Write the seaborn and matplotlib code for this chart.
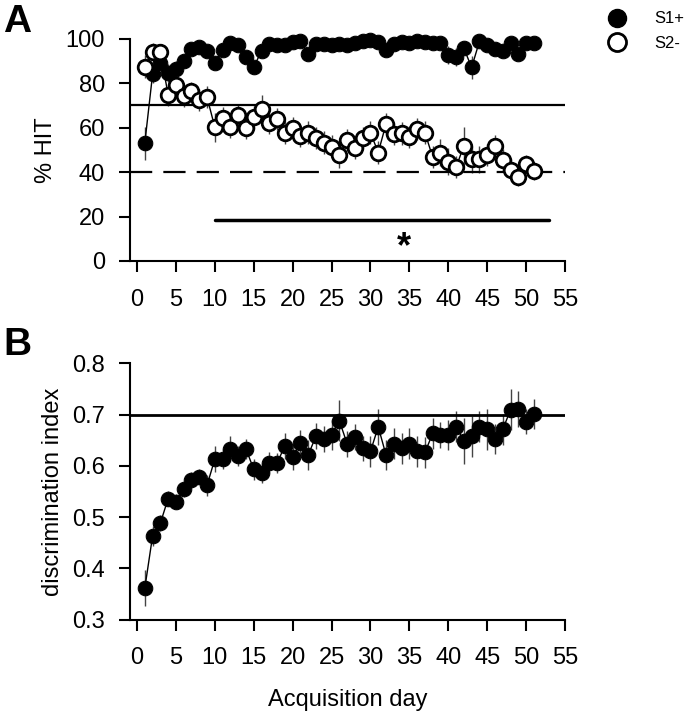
import numpy as np
import matplotlib
matplotlib.use("Agg")
import matplotlib.pyplot as plt
from matplotlib.lines import Line2D
import seaborn as sns

# acquisition days
days = list(range(1, 52))

# panel A: % HIT, mean and sem
s1_hit = [53, 84, 89, 84.5, 86.5, 90, 95.3, 96.2, 94.7, 89.3,
          95, 98, 97.3, 92, 87.2, 94.6, 97.7, 97.3, 97, 98.6,
          99, 93, 97.7, 97.5, 97, 97.5, 97, 98, 99, 99.5,
          98.5, 95, 97.5, 98.5, 98, 99, 98.5, 98, 98, 92.8,
          91.7, 95.8, 87.1, 98.8, 97.3, 95.3, 94.3, 98.3, 93.1, 98, 98]
s1_sem = [7.5, 4, 3, 4, 3.5, 3, 2, 2, 2.5, 3,
          2.5, 1.5, 1.5, 2.5, 3, 2, 1.5, 1.5, 1.5, 1,
          1, 2.5, 1.5, 1.5, 1.5, 1.5, 1.5, 1, 1, 1,
          1, 2, 1.5, 1, 1, 1, 1, 1, 1, 4,
          4, 3, 5, 1.5, 1.5, 2, 2, 1.5, 2.5, 1.5, 1.5]
s2_hit = [87.5, 94, 94, 74.8, 79.3, 74.3, 76.7, 72.5, 73.7, 60.2,
          64.3, 60.5, 65.5, 59.8, 64.6, 68.3, 62, 64, 57.8, 59.8,
          56.3, 57.8, 55.3, 53.3, 51.5, 47.7, 54.5, 50.8, 55.3, 57.8,
          48.8, 61.7, 57, 57.4, 55.7, 59.3, 57.8, 46.7, 48.8, 44.7,
          42.2, 51.8, 45.8, 45.8, 47.7, 51.8, 45.5, 41, 37.7, 43.7, 40.5]
s2_sem = [5, 4, 3, 5, 5, 5, 4, 5, 5, 6.5,
          5, 5, 5, 5, 5, 6.5, 5, 5, 5, 5,
          5, 5, 5, 5, 5, 6, 5, 5, 5, 5,
          5, 5, 5, 5, 5, 5, 5, 5, 6, 6,
          5, 8.7, 6, 6, 5, 5, 5, 5, 4, 4, 4]

# panel B: discrimination index, mean and sem
di = [0.361, 0.463, 0.488, 0.536, 0.530, 0.554, 0.572, 0.579, 0.562, 0.613,
      0.613, 0.633, 0.619, 0.633, 0.593, 0.586, 0.606, 0.605, 0.639, 0.617,
      0.645, 0.621, 0.658, 0.652, 0.660, 0.688, 0.643, 0.656, 0.634, 0.628,
      0.676, 0.621, 0.643, 0.634, 0.643, 0.628, 0.626, 0.663, 0.660, 0.660,
      0.676, 0.649, 0.658, 0.676, 0.671, 0.652, 0.671, 0.709, 0.710, 0.686, 0.701]
di_sem = [0.035, 0.02, 0.015, 0.015, 0.015, 0.015, 0.015, 0.015, 0.02, 0.025,
          0.02, 0.025, 0.02, 0.02, 0.02, 0.02, 0.02, 0.02, 0.025, 0.025,
          0.025, 0.03, 0.025, 0.025, 0.03, 0.04, 0.025, 0.025, 0.025, 0.03,
          0.035, 0.03, 0.03, 0.03, 0.03, 0.03, 0.03, 0.03, 0.025, 0.03,
          0.03, 0.045, 0.04, 0.03, 0.04, 0.03, 0.03, 0.04, 0.035, 0.025, 0.03]

# significance bar (days 10-53) and criterion lines
sig_start, sig_end, sig_y = 10, 53, 18.5
star_x, star_y = 34.3, 6

sns.set_style("ticks")
plt.rcParams['font.family'] = ['Liberation Sans', 'DejaVu Sans']
plt.rcParams.update({'text.color': 'black', 'axes.labelcolor': 'black',
                     'xtick.color': 'black', 'ytick.color': 'black'})

fig = plt.figure(figsize=(6.93, 7.19), dpi=100)
axA = fig.add_axes([0.1876, 0.637, 0.6277, 0.309])
axB = fig.add_axes([0.1876, 0.1383, 0.6277, 0.3565])

lab_fs = 17
tick_kw = dict(length=8, width=1.5, labelsize=lab_fs, direction='out', color='black')

# ---- panel A
axA.errorbar(days, s2_hit, yerr=s2_sem, fmt='none', ecolor='#444444', elinewidth=1,
             zorder=1, clip_on=False)
axA.errorbar(days, s1_hit, yerr=s1_sem, fmt='none', ecolor='#444444', elinewidth=1,
             zorder=1, clip_on=False)
sns.lineplot(x=days, y=s1_hit, ax=axA, color='black', lw=1, marker='o', markersize=10.5,
             markerfacecolor='black', markeredgecolor='black', zorder=3, clip_on=False)
sns.lineplot(x=days, y=s2_hit, ax=axA, color='black', lw=1, marker='o', markersize=10.5,
             markerfacecolor='white', markeredgecolor='black', markeredgewidth=2,
             zorder=4, clip_on=False)
axA.axhline(70, color='black', lw=1.6, zorder=2)
axA.axhline(40, color='black', lw=1.6, dashes=(10, 5), zorder=2)
axA.plot([sig_start, sig_end], [sig_y, sig_y], color='black', lw=2.5)
axA.text(star_x, star_y, '*', fontsize=26, fontweight='bold', ha='center', va='center')
axA.set_xlim(-0.9, 55)
axA.set_ylim(0, 100)
axA.set_yticks([0, 20, 40, 60, 80, 100])
axA.set_xticks(range(0, 56, 5))
axA.set_ylabel('% HIT', fontsize=lab_fs, labelpad=6)
axA.tick_params(axis='y', pad=10, **tick_kw)
axA.tick_params(axis='x', pad=12, **tick_kw)

# ---- panel B
axB.errorbar(days, di, yerr=di_sem, fmt='none', ecolor='#444444', elinewidth=1,
             zorder=1, clip_on=False)
sns.lineplot(x=days, y=di, ax=axB, color='black', lw=1, marker='o', markersize=10.5,
             markerfacecolor='black', markeredgecolor='black', zorder=3, clip_on=False)
axB.axhline(0.7, color='black', lw=2, zorder=2)
axB.set_xlim(-0.9, 55)
axB.set_ylim(0.3, 0.8)
axB.set_yticks([0.3, 0.4, 0.5, 0.6, 0.7, 0.8])
axB.set_xticks(range(0, 56, 5))
axB.set_ylabel('discrimination index', fontsize=lab_fs, labelpad=6)
axB.set_xlabel('Acquisition day', fontsize=lab_fs, labelpad=14)
axB.tick_params(axis='y', pad=10, **tick_kw)
axB.tick_params(axis='x', pad=12, **tick_kw)

for ax in (axA, axB):
    sns.despine(ax=ax)
    for sp in ('left', 'bottom'):
        ax.spines[sp].set_linewidth(1.5)
        ax.spines[sp].set_color('black')

# legend
handles = [Line2D([], [], ls='none', marker='o', markersize=13, markerfacecolor='black',
                  markeredgecolor='black'),
           Line2D([], [], ls='none', marker='o', markersize=13, markerfacecolor='white',
                  markeredgecolor='black', markeredgewidth=2)]
axA.legend(handles, ['S1+', 'S2-'], loc='upper left', bbox_to_anchor=(0.845, 1.005),
           bbox_transform=fig.transFigure, frameon=False, fontsize=12,
           handletextpad=1.2, labelspacing=0.55)

fig.text(0.005, 0.995, 'A', fontsize=28, fontweight='bold', ha='left', va='top')
fig.text(0.005, 0.545, 'B', fontsize=28, fontweight='bold', ha='left', va='top')

fig.savefig('out.png', dpi=100)
